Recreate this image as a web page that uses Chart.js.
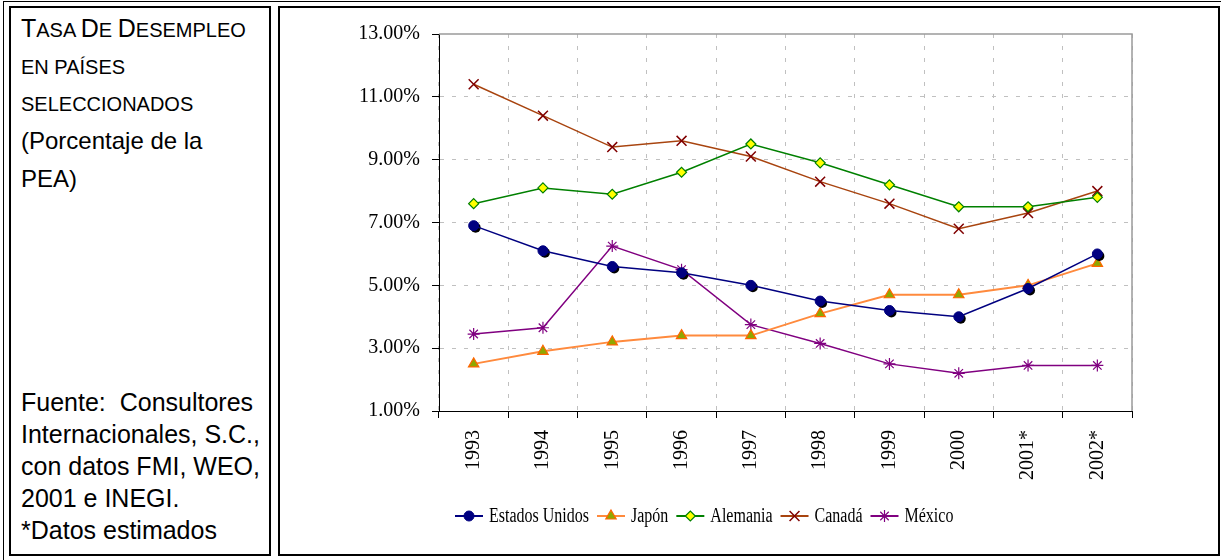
<!DOCTYPE html>
<html><head><meta charset="utf-8">
<script src="https://cdn.jsdelivr.net/npm/chart.js@4.4.0/dist/chart.umd.min.js"></script>
<style>
html,body{margin:0;padding:0;background:#fff;}
#wrap{position:relative;width:1221px;height:560px;overflow:hidden;background:#fff;}
.b{position:absolute;box-sizing:border-box;}
.t{position:absolute;left:21px;font-family:"Liberation Sans",Arial,sans-serif;color:#000;white-space:nowrap;}
.s{font-size:20px;}
canvas{position:absolute;left:0;top:0;}
</style></head>
<body>
<div id="wrap">
  <div class="b" style="left:3px;top:1px;width:1240px;height:580px;border:1px solid #000;"></div>
  <div class="b" style="left:9px;top:6px;width:262px;height:550px;border:2px solid #000;"></div>
  <div class="b" style="left:278px;top:6px;width:942px;height:550px;border:2px solid #000;"></div>

  <div class="t" style="top:16px;font-size:25px;line-height:25px;">T<span class="s">ASA </span>D<span class="s">E </span>D<span class="s">ESEMPLEO</span></div>
  <div class="t" style="top:57px;font-size:20px;line-height:20px;">EN PAÍSES</div>
  <div class="t" style="top:94px;font-size:20px;line-height:20px;">SELECCIONADOS</div>
  <div class="t" style="top:129px;font-size:24px;line-height:24px;">(Porcentaje de la</div>
  <div class="t" style="top:167px;font-size:24px;line-height:24px;">PEA)</div>

  <div class="t" style="top:390px;font-size:25px;line-height:25px;">Fuente:&nbsp; Consultores</div>
  <div class="t" style="top:422px;font-size:25px;line-height:25px;">Internacionales, S.C.,</div>
  <div class="t" style="top:454px;font-size:25px;line-height:25px;">con datos FMI, WEO,</div>
  <div class="t" style="top:486px;font-size:25px;line-height:25px;">2001 e INEGI.</div>
  <div class="t" style="top:518px;font-size:25px;line-height:25px;">*Datos estimados</div>

  <canvas id="c" width="1221" height="560"></canvas>
</div>
<script>
const categories = ['1993','1994','1995','1996','1997','1998','1999','2000','2001*','2002*'];
const estadosUnidos = [6.9, 6.1, 5.6, 5.4, 5.0, 4.5, 4.2, 4.0, 4.9, 6.0];
const japon        = [2.5, 2.9, 3.2, 3.4, 3.4, 4.1, 4.7, 4.7, 5.0, 5.7];
const alemania     = [7.6, 8.1, 7.9, 8.6, 9.5, 8.9, 8.2, 7.5, 7.5, 7.8];
const canada       = [11.4, 10.4, 9.4, 9.6, 9.1, 8.3, 7.6, 6.8, 7.3, 8.0];
const mexico       = [3.45, 3.65, 6.25, 5.5, 3.75, 3.15, 2.5, 2.2, 2.45, 2.45];
const yTicks = [1, 3, 5, 7, 9, 11, 13];

const serif = '"Liberation Serif","Times New Roman",serif';

const framePlugin = {
  id: 'frame',
  beforeDatasetsDraw(chart) {
    const {ctx, chartArea: a} = chart;
    ctx.save();
    ctx.strokeStyle = '#9a9a9a';
    ctx.lineWidth = 1.5;
    ctx.beginPath();
    ctx.moveTo(a.left, a.top);
    ctx.lineTo(a.right, a.top);
    ctx.lineTo(a.right, a.bottom);
    ctx.stroke();
    ctx.restore();
  }
};

const shadowPlugin = {
  id: 'shadow',
  beforeDatasetDraw(chart, args) {
    if (args.index !== 0) return;
    const ctx = chart.ctx;
    ctx.save();
    ctx.fillStyle = '#000';
    args.meta.data.forEach(p => {
      ctx.beginPath();
      ctx.arc(p.x + 2, p.y + 2, 5, 0, Math.PI * 2);
      ctx.fill();
    });
    ctx.restore();
  }
};

function drawMarker(ctx, ds, x, y) {
  ctx.fillStyle = ds.pointBackgroundColor;
  ctx.strokeStyle = ds.pointBorderColor;
  ctx.lineWidth = ds.pointBorderWidth;
  if (Chart.helpers && Chart.helpers.drawPoint) {
    Chart.helpers.drawPoint(ctx, {pointStyle: ds.pointStyle, rotation: 0, radius: ds.pointRadius, borderWidth: ds.pointBorderWidth}, x, y);
  } else {
    ctx.beginPath(); ctx.arc(x, y, ds.pointRadius, 0, Math.PI * 2); ctx.fill(); ctx.stroke();
  }
}

const legendPlugin = {
  id: 'xlLegend',
  afterDraw(chart) {
    const ctx = chart.ctx;
    const y = 516;
    let x = 455;
    ctx.save();
    ctx.font = '20px ' + serif;
    ctx.textBaseline = 'middle';
    ctx.fillStyle = '#000';
    chart.data.datasets.forEach(ds => {
      ctx.strokeStyle = ds.borderColor;
      ctx.lineWidth = 2;
      ctx.beginPath(); ctx.moveTo(x, y); ctx.lineTo(x + 28, y); ctx.stroke();
      drawMarker(ctx, ds, x + 14, y);
      const tx = x + 34;
      const w = ctx.measureText(ds.label).width * 0.8;
      ctx.save();
      ctx.translate(tx, y);
      ctx.scale(0.8, 1);
      ctx.fillStyle = '#000';
      ctx.fillText(ds.label, 0, 1);
      ctx.restore();
      x = tx + w + 8;
    });
    ctx.restore();
  }
};

new Chart(document.getElementById('c'), {
  type: 'line',
  data: {
    labels: categories,
    datasets: [
      {label: 'Estados Unidos', data: estadosUnidos, borderColor: '#000080', borderWidth: 1.5,
       pointStyle: 'circle', pointRadius: 5, pointBackgroundColor: '#000080', pointBorderColor: '#000080', pointBorderWidth: 1},
      {label: 'Japón', data: japon, borderColor: '#ff8a3d', borderWidth: 2,
       pointStyle: 'triangle', pointRadius: 6, pointBackgroundColor: '#8fa800', pointBorderColor: '#ff6600', pointBorderWidth: 1.2},
      {label: 'Alemania', data: alemania, borderColor: '#008000', borderWidth: 1.5,
       pointStyle: 'rectRot', pointRadius: 5, pointBackgroundColor: '#ffff00', pointBorderColor: '#008000', pointBorderWidth: 1.2},
      {label: 'Canadá', data: canada, borderColor: '#a8440f', borderWidth: 1.5,
       pointStyle: 'crossRot', pointRadius: 7, pointBackgroundColor: '#800000', pointBorderColor: '#800000', pointBorderWidth: 1.5},
      {label: 'México', data: mexico, borderColor: '#800080', borderWidth: 1.5,
       pointStyle: 'star', pointRadius: 6, pointBackgroundColor: '#800080', pointBorderColor: '#800080', pointBorderWidth: 1.2}
    ]
  },
  options: {
    responsive: false,
    animation: false,
    events: [],
    layout: {padding: {left: 280, right: 89, top: 34, bottom: 60}},
    elements: {line: {tension: 0}},
    plugins: {legend: {display: false}, tooltip: {enabled: false}},
    scales: {
      x: {
        type: 'category',
        offset: true,
        grid: {offset: true, color: '#c0c0c0', lineWidth: 1, tickLength: 7, tickColor: '#000', tickWidth: 1},
        border: {color: '#000', width: 1, dash: [4, 8]},
        ticks: {minRotation: 90, maxRotation: 90, autoSkip: false, color: '#000', font: {family: serif, size: 20}, padding: 12},
        afterFit(s) { s.height = 89; }
      },
      y: {
        min: 1, max: 13,
        afterBuildTicks(s) { s.ticks = yTicks.map(v => ({value: v})); },
        grid: {color: c => (c.tick && c.tick.value === 13) ? 'rgba(0,0,0,0)' : '#c0c0c0', lineWidth: 1, tickLength: 7, tickColor: '#000', tickWidth: 1},
        border: {color: '#000', width: 1, dash: [4, 8]},
        ticks: {color: '#000', font: {family: serif, size: 20}, padding: 12, callback: v => Number(v).toFixed(2) + '%'},
        afterFit(s) { s.width = 159; }
      }
    }
  },
  plugins: [framePlugin, shadowPlugin, legendPlugin]
});
</script>
</body></html>
